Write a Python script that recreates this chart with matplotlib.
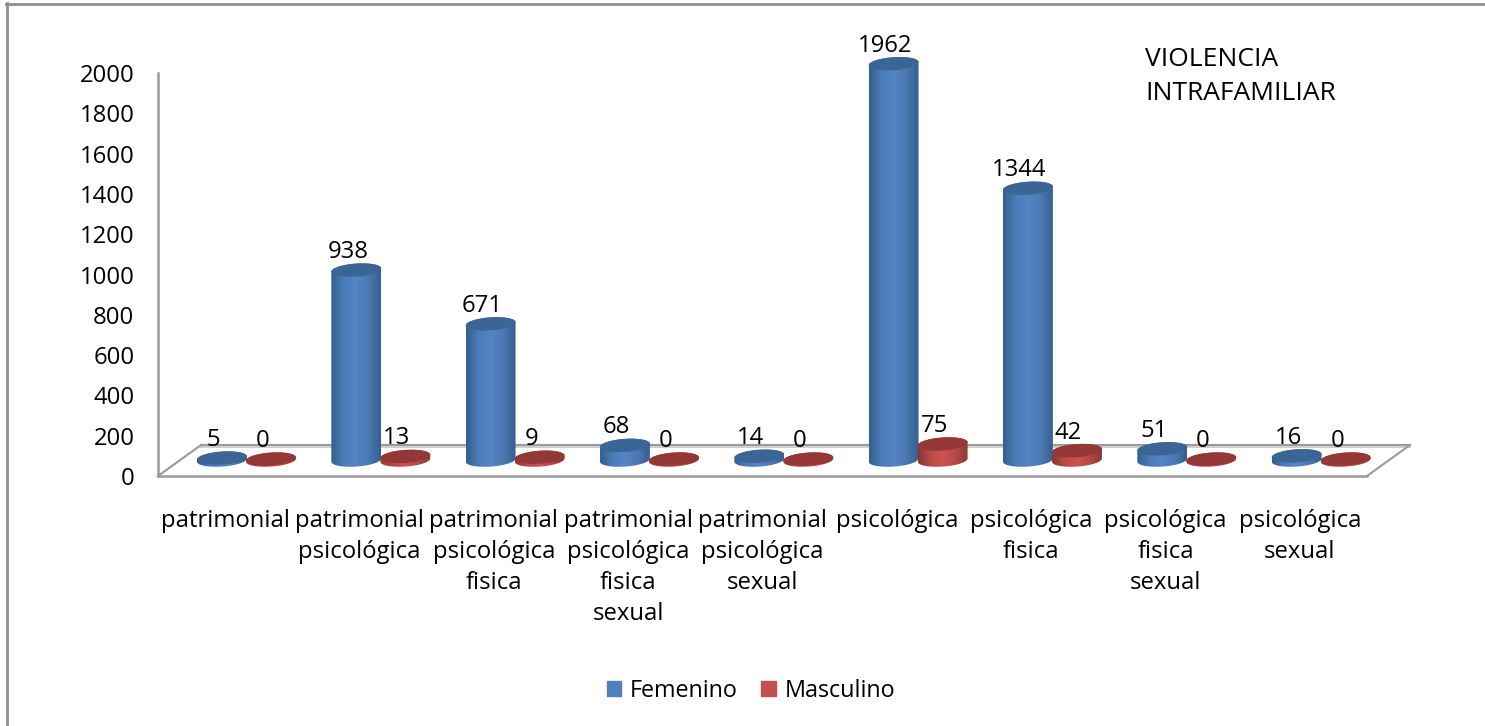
import numpy as np
import matplotlib
matplotlib.use('Agg')
import matplotlib.pyplot as plt
from matplotlib.colors import LinearSegmentedColormap
from matplotlib.lines import Line2D
from matplotlib.patches import Patch, Polygon

categories = ['patrimonial', 'patrimonial\npsicológica', 'patrimonial\npsicológica\nfisica',
              'patrimonial\npsicológica\nfisica\nsexual', 'patrimonial\npsicológica\nsexual',
              'psicológica', 'psicológica\nfisica', 'psicológica\nfisica\nsexual', 'psicológica\nsexual']
femenino = [5, 938, 671, 68, 14, 1962, 1344, 51, 16]
masculino = [0, 13, 9, 0, 0, 75, 42, 0, 0]
y_ticks = [0, 200, 400, 600, 800, 1000, 1200, 1400, 1600, 1800, 2000]

W, H = 1485, 726
plt.rcParams['font.family'] = ['Open Sans', 'DejaVu Sans']
TXT = 17.2
GRAY = '#9a9a9a'

fig = plt.figure(figsize=(W / 100, H / 100), dpi=100)
ax = fig.add_axes([158 / W, 1 - 476 / H, 1209 / W, 403 / H])
ax.set_xlim(-0.5, 8.5)
ax.set_ylim(0, 2000)
sx = 1209 / 9      # px per category
sy = 403 / 2000    # px per value

# outer frame of the pasted picture (only top and left show)
fig.add_artist(Line2D([6.5 / W, 6.5 / W], [0, 1 - 3 / H], color='#8f8f8f', lw=2))
fig.add_artist(Line2D([6 / W, 1], [1 - 4 / H, 1 - 4 / H], color='#8f8f8f', lw=2))

for s in ['top', 'right']:
    ax.spines[s].set_visible(False)
for s in ['left', 'bottom']:
    ax.spines[s].set_color(GRAY)
    ax.spines[s].set_linewidth(1.8)

ax.set_yticks(y_ticks)
ax.set_xticks(range(len(categories)))
ax.set_xticklabels(categories, fontsize=TXT, linespacing=1.4)
ax.tick_params(axis='y', length=0, pad=17, labelsize=TXT)
ax.tick_params(axis='x', length=0, pad=23.5)

# floor of the 3d chart
depth_x = 43 / sx
depth_y = 31 / sy
ax.plot([-0.5, -0.5 + depth_x], [0, depth_y], color=GRAY, lw=1.5, clip_on=False)
ax.plot([8.5, 8.5 + depth_x], [0, depth_y], color=GRAY, lw=1.5, clip_on=False)
ax.plot([-0.5 + depth_x, 8.5 + depth_x], [depth_y, depth_y], color=GRAY, lw=1.5, clip_on=False, zorder=1)
ax.plot([-0.5 + depth_x, 8.5 + depth_x], [depth_y - 1.5 / sy, depth_y - 1.5 / sy], color='#cfcfcf', lw=1.5,
        clip_on=False, zorder=1)

blue_map = LinearSegmentedColormap.from_list('b', ['#33608f', '#4c7cb8', '#5485c5', '#4c79b2', '#33608f'])
red_map = LinearSegmentedColormap.from_list('r', ['#8a3735', '#b94a47', '#cb5451', '#b54845', '#8a3735'])

A, B = 25, 6.5
TILT = np.radians(4)
BASE = 84


def ellipse_part(cx, cy, t):
    ex = A * np.cos(t) * np.cos(TILT) - B * np.sin(t) * np.sin(TILT)
    ey = A * np.cos(t) * np.sin(TILT) + B * np.sin(t) * np.cos(TILT)
    return np.column_stack([cx + ex / sx, cy + ey / sy])


def cylinder(cx, value, cmap, cap, z):
    top = BASE + value
    low = ellipse_part(cx, BASE - 1 / sy, np.linspace(np.pi, 2 * np.pi, 40))
    upp = ellipse_part(cx, top, np.linspace(0, np.pi, 40))
    body = Polygon(np.vstack([low, upp]), closed=True, fc='none', ec='none', zorder=z, clip_on=False)
    ax.add_patch(body)
    im = ax.imshow(np.linspace(0, 1, 64).reshape(1, -1), cmap=cmap, aspect='auto', zorder=z,
                   extent=[cx - A / sx, cx + A / sx, BASE - 10 / sy, top + 10 / sy])
    im.set_clip_path(body)
    im.set_clip_box(fig.bbox)
    ring = ellipse_part(cx, top, np.linspace(0, 2 * np.pi, 80))
    ax.add_patch(Polygon(ring, closed=True, fc=cap, ec='none', zorder=z + 0.1, clip_on=False))
    ax.annotate(str(value), xy=(cx, top), xytext=(-8.5, 18), textcoords='offset pixels', ha='center',
                va='center', fontsize=TXT, color='black', annotation_clip=False, zorder=10)


for i in range(len(categories)):
    cylinder(i - 0.024, femenino[i], blue_map, '#3a6594', 3 + i)
    cylinder(i + 0.341, masculino[i], red_map, '#933836', 3.5 + i)

ax.set_xlim(-0.5, 8.5)
ax.set_ylim(0, 2000)

fig.text(1145 / W, 1 - 59 / H, 'VIOLENCIA', fontsize=19, va='center', ha='left')
fig.text(1145 / W, 1 - 94 / H, 'INTRAFAMILIAR', fontsize=19, va='center', ha='left')

handles = [Patch(color='#4f81bd', label='Femenino'), Patch(color='#c0504d', label='Masculino')]
ax.legend(handles=handles, loc='center', bbox_to_anchor=(751 / W, 1 - 691 / H), bbox_transform=fig.transFigure,
          ncol=2, frameon=False, fontsize=TXT - 0.4, handlelength=0.62, handleheight=0.62, handletextpad=0.38,
          columnspacing=1.0)

fig.savefig('out.png', dpi=100)
